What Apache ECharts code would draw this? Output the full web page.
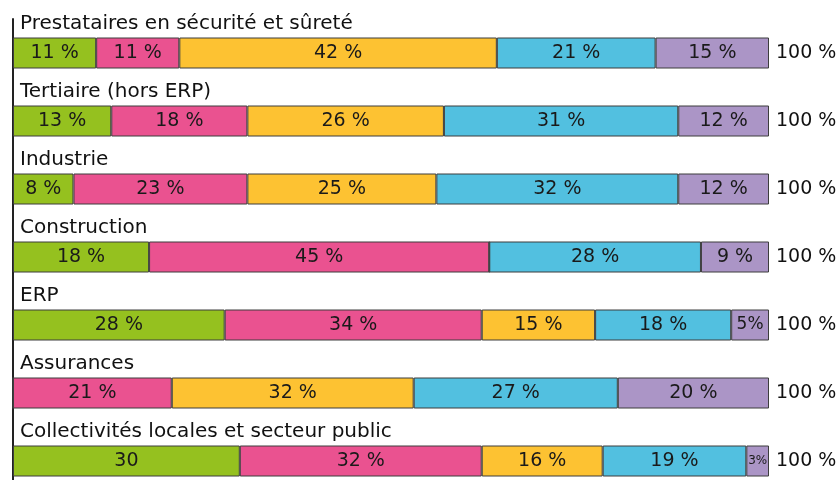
<!DOCTYPE html>
<html>
<head>
<meta charset="utf-8">
<script src="https://cdn.jsdelivr.net/npm/echarts@6/dist/echarts.min.js"></script>
<style>
  html, body { margin: 0; padding: 0; background: #fff; }
  #chart { width: 840px; height: 480px; }
</style>
</head>
<body>
<div id="chart"></div>
<script>
const categories = [
  "Prestataires en sécurité et sûreté",
  "Tertiaire (hors ERP)",
  "Industrie",
  "Construction",
  "ERP",
  "Assurances",
  "Collectivités locales et secteur public"
];
const green = [11, 13, 8, 18, 28, 0, 30];
const pink = [11, 18, 23, 45, 34, 21, 32];
const yellow = [42, 26, 25, 0, 15, 32, 16];
const blue = [21, 31, 32, 28, 18, 27, 19];
const purple = [15, 12, 12, 9, 5, 20, 3];
const totals = [100, 100, 100, 100, 100, 100, 100];

// label text as printed on the chart (a few differ from "n %")
const greenLabels = ["11 %", "13 %", "8 %", "18 %", "28 %", "", "30"];
const purpleLabels = ["15 %", "12 %", "12 %", "9 %", "5%", "20 %", "3%"];

const FONT = "DejaVu Sans";
const chart = echarts.init(document.getElementById("chart"));

function makeSeries(name, values, color, labels) {
  return {
    name: name,
    type: "bar",
    stack: "total",
    barWidth: 31,
    data: values.map((v, i) => {
      const item = { value: v };
      if (labels && labels[i] === "3%") item.label = { fontSize: 12 };
      if (labels && labels[i] === "5%") item.label = { fontSize: 17 };
      return item;
    }),
    itemStyle: { color: color, borderColor: "#3d3d3d", borderWidth: 1 },
    label: {
      show: true,
      position: "inside",
      color: "#1a1a1a",
      fontFamily: FONT,
      fontSize: 19,
      formatter: p => {
        if (!p.value) return "";
        return labels ? labels[p.dataIndex] : p.value + " %";
      }
    }
  };
}

chart.setOption({
  animation: false,
  grid: { left: 13, right: 71, top: 19, height: 476, outerBoundsMode: "none" },
  xAxis: { type: "value", min: 0, max: 100, show: false },
  yAxis: [
    {
      type: "category",
      data: categories,
      inverse: true,
      axisLine: { show: true, lineStyle: { color: "#222", width: 2 } },
      axisTick: { show: false },
      axisLabel: {
        inside: true,
        margin: 7,
        verticalAlign: "middle",
        formatter: v => "{t|" + v + "}\n{s|}",
        rich: {
          t: { color: "#111", fontFamily: FONT, fontSize: 20, lineHeight: 22 },
          s: { height: 58 }
        }
      }
    },
    {
      type: "category",
      data: totals.map(t => t + " %"),
      inverse: true,
      position: "right",
      axisLine: { show: false },
      axisTick: { show: false },
      axisLabel: {
        margin: 7,
        color: "#111",
        fontFamily: FONT,
        fontSize: 19
      }
    }
  ],
  series: [
    makeSeries("vert", green, "#95c11f", greenLabels),
    makeSeries("rose", pink, "#ea5290"),
    makeSeries("jaune", yellow, "#fdc232"),
    makeSeries("bleu", blue, "#52c0e0"),
    makeSeries("violet", purple, "#ab95c6", purpleLabels)
  ]
});
</script>
</body>
</html>
